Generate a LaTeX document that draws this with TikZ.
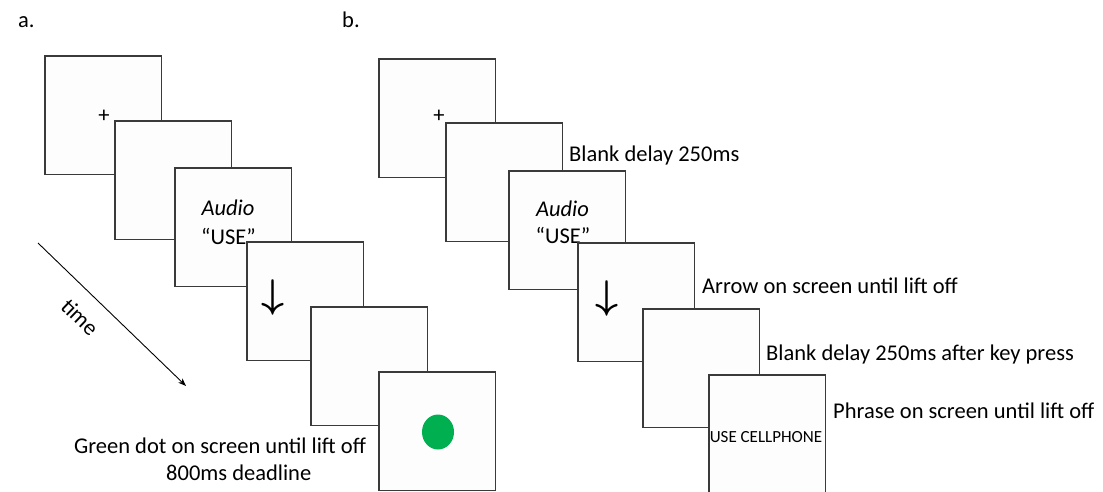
\RequirePackage{fix-cm}
\documentclass[tikz,border=0pt]{standalone}
\usepackage{fontspec}
\setmainfont{Carlito}
\usetikzlibrary{arrows.meta}

\definecolor{dotgreen}{HTML}{00B050}
\definecolor{edgegray}{HTML}{3A3A3A}
\definecolor{screenfill}{HTML}{FDFDFD}

\tikzset{
    screen/.style={draw=edgegray, line width=1.2pt, fill=screenfill, anchor=north west,
        minimum width=116.5pt, minimum height=118.5pt, inner sep=0pt, outer sep=0pt},
    txt/.style={font=\fontsize{22.5}{26}\selectfont, inner sep=0pt, text=black},
    lbl/.style={txt, anchor=base west},
    cue/.style={font=\fontsize{40}{40}\selectfont\boldmath, inner sep=0pt},
}

\begin{document}
\begin{tikzpicture}[x=1pt, y=-1pt]
    \useasboundingbox (0,0) rectangle (1103,492);
    \clip (0,0) rectangle (1103,492);

    % a. trial without phrase
    \node[lbl] (alabel) at (18,28) {a.};

    \node[screen] (a1) at (45,56) {};
    \node[txt] (afix) at (104,116) {+};
    \node[screen] (a2) at (115,121) {};
    \node[screen] (a3) at (175,168) {};
    \node[txt, anchor=base] (aaudio) at (228,215) {\itshape Audio};
    \node[txt, anchor=base] (aword) at (228.5,244) {“USE”};
    \node[screen] (a4) at (247,242) {};
    \node[cue] (aarrow) at (273,297) {$\downarrow$};
    \node[screen] (a5) at (311,307) {};
    \node[screen] (a6) at (379,372) {};
    \fill[dotgreen] (438,432) ellipse [x radius=16pt, y radius=17.5pt];

    \node[lbl] (agreen) at (74,453) {Green dot on screen until lift off};
    \node[lbl] (adead) at (166,480) {800ms deadline};

    \coordinate (tstart) at (38,243);
    \coordinate (tend) at (186,386);
    \draw[-{Stealth[length=8pt, width=6pt]}, line width=0.9pt] (tstart) -- (tend);
    \node[txt, rotate=-44] (tlabel) at (80,317) {time};

    % b. trial with phrase
    \node[lbl] (blabel) at (342,28) {b.};

    \node[screen] (b1) at (379,59) {};
    \node[txt] (bfix) at (439,116) {+};
    \node[screen] (b2) at (446,123) {};
    \node[screen] (b3) at (509,171) {};
    \node[txt, anchor=base] (baudio) at (562.5,216) {\itshape Audio};
    \node[txt, anchor=base] (bword) at (563,243.5) {“USE”};
    \node[screen] (b4) at (578,243) {};
    \node[cue] (barrow) at (607,298) {$\downarrow$};
    \node[screen] (b5) at (643,309) {};
    \node[screen] (b6) at (709,375) {};
    \node[txt, font=\fontsize{17}{20}\selectfont, anchor=base] (bphrase) at (766,442) {USE CELLPHONE};

    \node[lbl] (bblank) at (569,161) {Blank delay 250ms};
    \node[lbl] (barrowtxt) at (702,293) {Arrow on screen until lift off};
    \node[lbl] (bkey) at (766,360) {Blank delay 250ms after key press};
    \node[lbl] (bphrasetxt) at (833,418) {Phrase on screen until lift off};
\end{tikzpicture}
\end{document}
